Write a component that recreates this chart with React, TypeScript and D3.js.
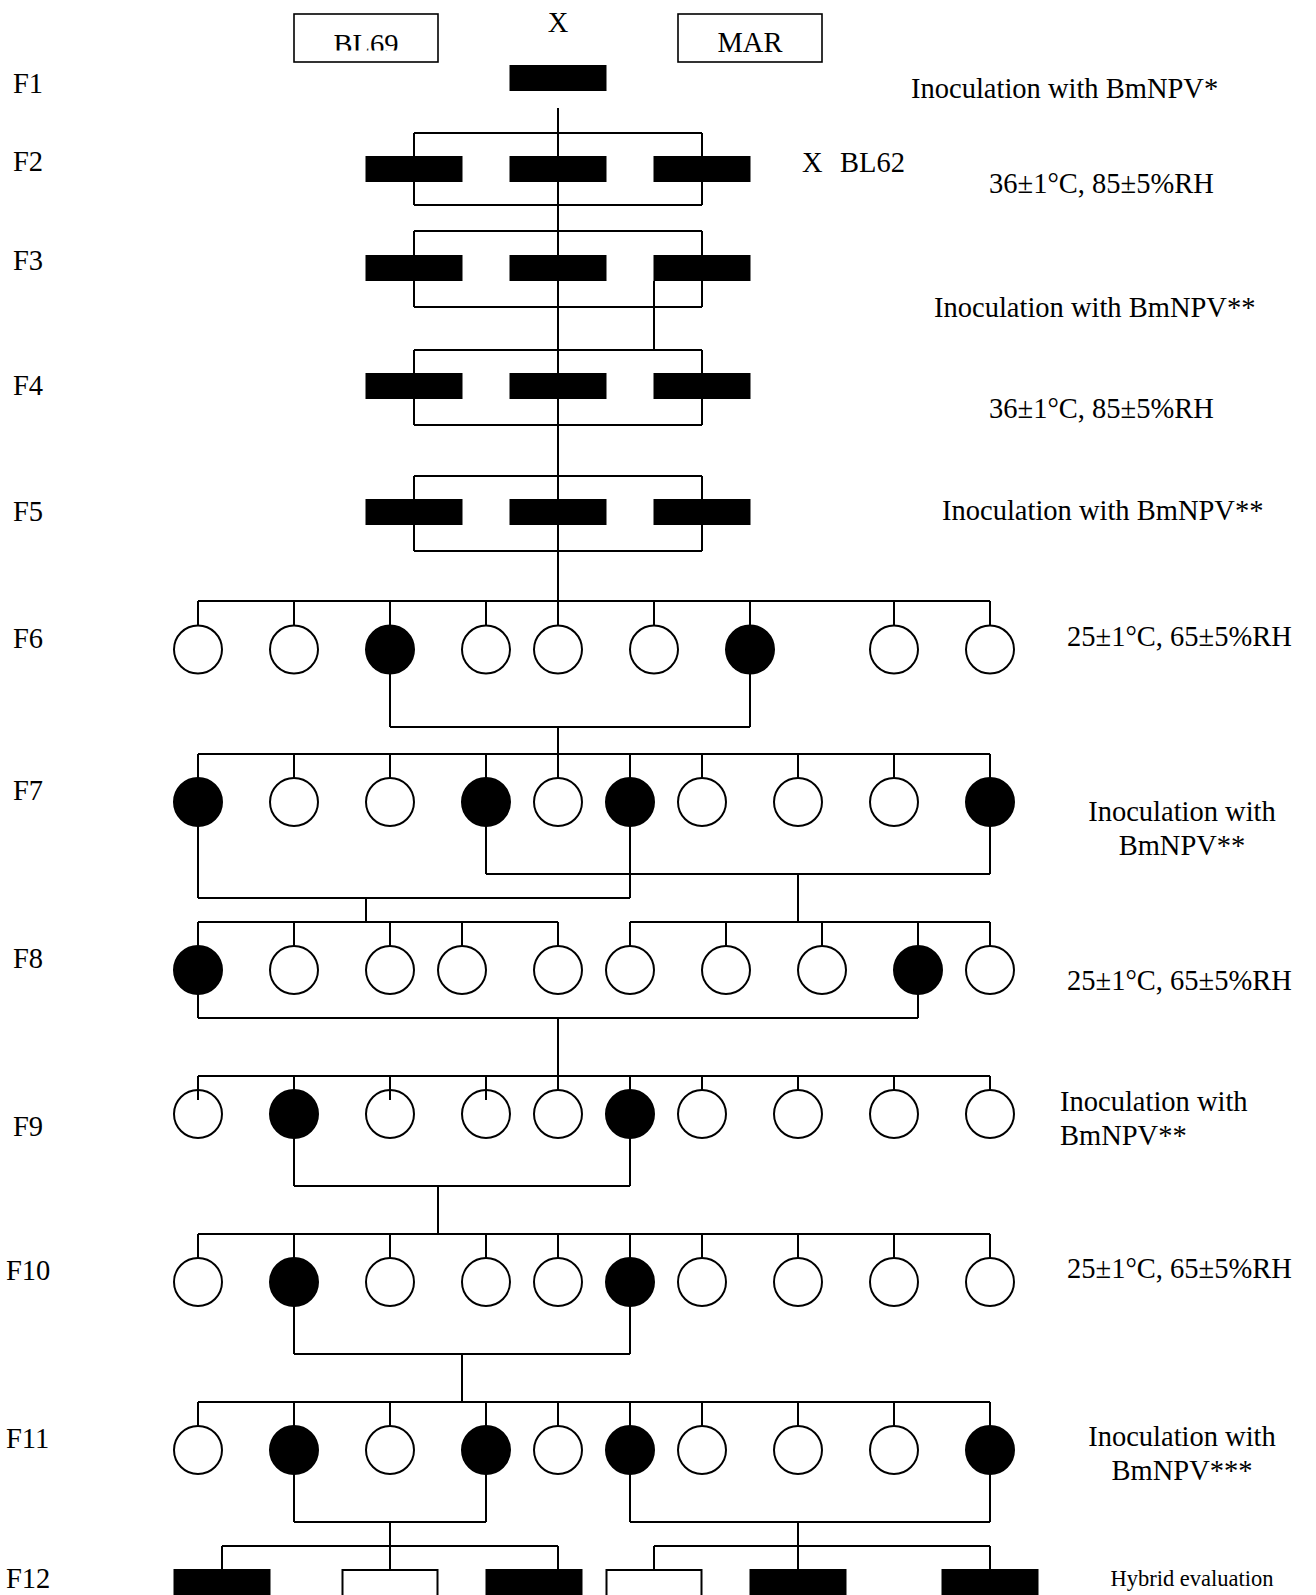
import React, { useEffect, useRef } from "react";
import * as d3 from "d3";

// slot index of each individual on a 0..33 grid (24px per slot)
const rectCols = [9, 15, 21];
const f6Cols = [0, 4, 8, 12, 15, 19, 23, 29, 33];
const f6Filled = [8, 23];
const stdCols = [0, 4, 8, 12, 15, 18, 21, 25, 29, 33];
const f7Filled = [0, 12, 18, 33];
const f8LeftCols = [0, 4, 8, 11, 15];
const f8RightCols = [18, 22, 26, 30, 33];
const f8Filled = [0, 30];
const f9Filled = [4, 18];
const f9TickInto = [0, 8, 12];
const f10Filled = [4, 18];
const f11Filled = [4, 12, 18, 33];
const f12Cols = [1, 8, 14, 19, 25, 33];
const f12Filled = [true, false, true, false, true, true];
const f12LeftTicks = [1, 8, 15];
const f12RightTicks = [19, 25, 33];

const genLabels = ["F1", "F2", "F3", "F4", "F5", "F6", "F7", "F8", "F9", "F10", "F11", "F12"];

// selected pairs: [parentA, parentB, drop slot]
const matingParents = [
	[8, 23, 15],
	[12, 33, 25],
	[0, 18, 7],
	[0, 30, 15],
	[4, 18, 10],
	[4, 18, 11],
	[4, 12, 8],
	[18, 33, 25],
];

const notes = [
	"Inoculation with BmNPV*",
	"36±1°C, 85±5%RH",
	"Inoculation with BmNPV**",
	"36±1°C, 85±5%RH",
	"Inoculation with BmNPV**",
	"25±1°C, 65±5%RH",
	"25±1°C, 65±5%RH",
	"25±1°C, 65±5%RH",
];
const twoLineNotes = [
	["Inoculation with", "BmNPV**"],
	["Inoculation with", "BmNPV**"],
	["Inoculation with", "BmNPV***"],
];

export default function App() {
	const svgRef = useRef<SVGSVGElement>(null);

	useEffect(() => {
		document.body.style.margin = "0";
		if (!svgRef.current) return;
		const svg = d3.select(svgRef.current);
		svg.selectAll("*").remove();

		const x = d3.scaleLinear().domain([0, 33]).range([198, 990]);
		const font = "'Liberation Serif', 'Times New Roman', serif";
		const fs = 28.5;
		const r = 24;
		const rw = 97;
		const rh = 26;

		const g = svg.append("g").attr("stroke", "#000").attr("stroke-width", 2).attr("fill", "none");
		const line = (x1: number, y1: number, x2: number, y2: number, parent = g) =>
			parent.append("line").attr("x1", x1).attr("y1", y1).attr("x2", x2).attr("y2", y2);

		// parents
		const boxes = [
			{ name: "BL69", cx: 366, base: 54 },
			{ name: "MAR", cx: 750, base: 52 },
		];
		svg.append("defs").append("clipPath").attr("id", "boxclip")
			.append("rect").attr("x", 0).attr("y", 0).attr("width", 1316).attr("height", 50.5);
		boxes.forEach((b, i) => {
			svg.append("rect").attr("x", b.cx - 72).attr("y", 14).attr("width", 144).attr("height", 48)
				.attr("fill", "none").attr("stroke", "#000").attr("stroke-width", 1.6);
			svg.append("text").attr("x", b.cx).attr("y", b.base).attr("text-anchor", "middle")
				.attr("font-family", font).attr("font-size", fs)
				.attr("clip-path", i === 0 ? "url(#boxclip)" : null).text(b.name);
		});
		svg.append("text").attr("x", 558).attr("y", 32).attr("text-anchor", "middle")
			.attr("font-family", font).attr("font-size", fs).text("X");

		// F1 - F5: family rectangles
		const rectRows = [
			{ top: 156, bTop: 133, bBot: 205 },
			{ top: 255, bTop: 231, bBot: 307 },
			{ top: 373, bTop: 350, bBot: 425 },
			{ top: 499, bTop: 476, bBot: 551 },
		];
		line(x(15), 108, x(15), 601);
		line(x(19), 281, x(19), 351);
		rectRows.forEach((row) => {
			const a = x(rectCols[0]);
			const b = x(rectCols[rectCols.length - 1]);
			line(a, row.bTop, b, row.bTop);
			line(a, row.bBot, b, row.bBot);
			line(a, row.bTop, a, row.bBot);
			line(b, row.bTop, b, row.bBot);
		});
		svg.append("rect").attr("x", x(15) - rw / 2).attr("y", 65).attr("width", rw).attr("height", rh).attr("fill", "#000");
		rectRows.forEach((row) => {
			svg.selectAll(null).data(rectCols).enter().append("rect")
				.attr("x", (d) => x(d) - rw / 2).attr("y", row.top)
				.attr("width", rw).attr("height", rh).attr("fill", "#000");
		});

		// F6 - F11: sibships of single moths
		const circleRows = [
			{ cols: [f6Cols], filled: f6Filled, cy: 649.5, bar: 601 },
			{ cols: [stdCols], filled: f7Filled, cy: 802, bar: 754 },
			{ cols: [f8LeftCols, f8RightCols], filled: f8Filled, cy: 970, bar: 922 },
			{ cols: [stdCols], filled: f9Filled, cy: 1114, bar: 1076, into: f9TickInto },
			{ cols: [stdCols], filled: f10Filled, cy: 1282, bar: 1234 },
			{ cols: [stdCols], filled: f11Filled, cy: 1450, bar: 1402 },
		];
		circleRows.forEach((row) => {
			row.cols.forEach((cols) => {
				line(x(d3.min(cols) as number), row.bar, x(d3.max(cols) as number), row.bar);
				cols.forEach((c) => line(x(c), row.bar, x(c), row.cy - r));
			});
		});

		// mating brackets
		const fromRow = [0, 1, 1, 2, 3, 4, 5, 5];
		const bracketY = [727, 874, 898, 1018, 1186, 1354, 1522, 1522];
		const nextBar = [754, 922, 922, 1076, 1234, 1402, 1546, 1546];
		matingParents.forEach(([a, b, drop], i) => {
			const cy = circleRows[fromRow[i]].cy;
			line(x(a), cy + r, x(a), bracketY[i]);
			line(x(b), cy + r, x(b), bracketY[i]);
			line(x(a), bracketY[i], x(b), bracketY[i]);
			line(x(drop), bracketY[i], x(drop), nextBar[i]);
		});

		circleRows.forEach((row) => {
			const all = row.cols.flat();
			svg.selectAll(null).data(all).enter().append("circle")
				.attr("cx", (d) => x(d)).attr("cy", row.cy).attr("r", r)
				.attr("fill", (d) => (row.filled.includes(d) ? "#000" : "#fff"))
				.attr("stroke", "#000").attr("stroke-width", 2);
		});

		// ticks that run into the circle top (F9)
		const g2 = svg.append("g").attr("stroke", "#000").attr("stroke-width", 2);
		circleRows.forEach((row) => {
			(row.into || []).forEach((c) => line(x(c), row.cy - r, x(c), row.cy - r + 10, g2));
		});

		// F12: hybrid lines
		[f12LeftTicks, f12RightTicks].forEach((ticks) => {
			line(x(ticks[0]), 1546, x(ticks[ticks.length - 1]), 1546);
			ticks.forEach((c) => line(x(c), 1546, x(c), 1570));
		});
		svg.selectAll(null).data(f12Cols).enter().append("rect")
			.attr("x", (d) => x(d) - rw / 2 + 1).attr("y", 1570)
			.attr("width", rw - 2).attr("height", rh)
			.attr("fill", (d, i) => (f12Filled[i] ? "#000" : "#fff"))
			.attr("stroke", "#000").attr("stroke-width", 2);

		// generation labels
		const labelY = [93, 171, 270, 395, 521, 648, 800, 968, 1136, 1280, 1448, 1588];
		svg.selectAll(null).data(genLabels).enter().append("text")
			.attr("x", (d) => (d.length > 2 ? 6 : 13)).attr("y", (d, i) => labelY[i])
			.attr("font-family", font).attr("font-size", fs).text((d) => d);

		// treatment notes
		const noteX = [911, 989, 934, 989, 942, 1067, 1067, 1067];
		const noteY = [98, 193, 317, 418, 520, 646, 990, 1278];
		svg.selectAll(null).data(notes).enter().append("text")
			.attr("x", (d, i) => noteX[i]).attr("y", (d, i) => noteY[i])
			.attr("font-family", font).attr("font-size", fs).text((d) => d);
		svg.append("text").attr("x", 802).attr("y", 172).attr("font-family", font).attr("font-size", fs).text("X");
		svg.append("text").attr("x", 840).attr("y", 172).attr("font-family", font).attr("font-size", fs).text("BL62");

		const twoX = [1182, 1060, 1182];
		const twoAnchor = ["middle", "start", "middle"];
		const twoY = [821, 1111, 1446];
		twoLineNotes.forEach((lines, i) => {
			svg.selectAll(null).data(lines).enter().append("text")
				.attr("x", twoX[i]).attr("y", (d, j) => twoY[i] + j * 34)
				.attr("text-anchor", twoAnchor[i])
				.attr("font-family", font).attr("font-size", fs).text((d) => d);
		});
		svg.append("text").attr("x", 1192).attr("y", 1586).attr("text-anchor", "middle")
			.attr("font-family", font).attr("font-size", 22.5).text("Hybrid evaluation");
	}, []);

	return (
		<svg ref={svgRef} width={1316} height={1595} style={{ display: "block", background: "#fff" }} />
	);
}
